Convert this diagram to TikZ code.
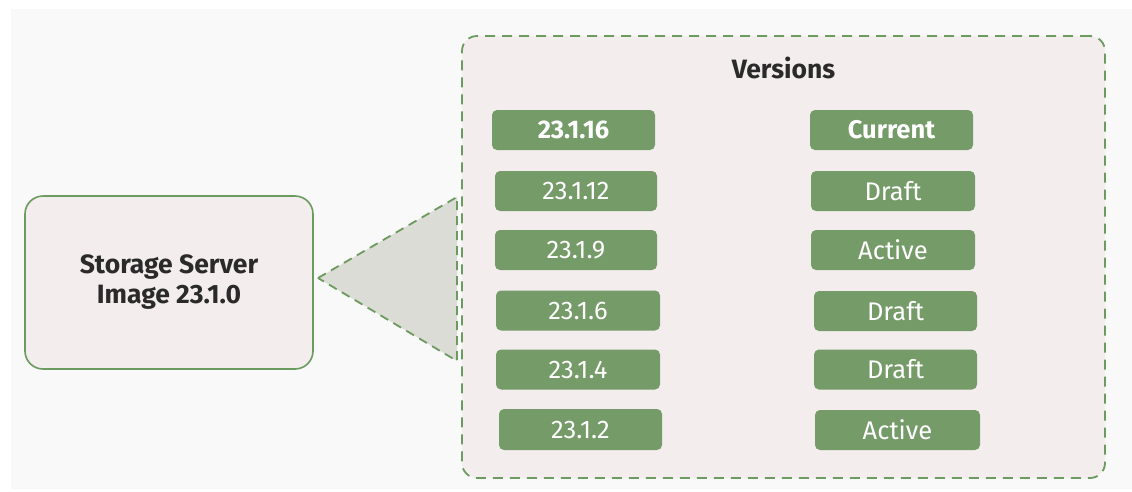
\documentclass[tikz,border=0pt]{standalone}
\usepackage{fontspec}
\setmainfont{Fira Sans}
\definecolor{bgc}{HTML}{F9F9F9}
\definecolor{boxfill}{HTML}{F3EDED}
\definecolor{gline}{HTML}{6C9B60}
\definecolor{gbox}{HTML}{759B68}
\definecolor{trifill}{HTML}{DCDCD6}
\definecolor{txt}{HTML}{2A2A2A}
\tikzset{
  srvbox/.style={draw=gline, line width=1.6pt, fill=boxfill, rounded corners=18pt,
    minimum width=288pt, minimum height=173pt, inner sep=0pt, align=center,
    text=txt, font=\fontsize{26.5}{30}\selectfont\bfseries},
  verbox/.style={draw=gline, line width=1.8pt, fill=boxfill, rounded corners=15pt,
    dash pattern=on 10pt off 7pt, minimum width=643pt, minimum height=442pt, inner sep=0pt},
  tag/.style={fill=gbox, rounded corners=5pt, minimum height=40pt, inner sep=0pt,
    text=white, font=\fontsize{25.5}{28}\selectfont},
  tagb/.style={tag, font=\fontsize{25.5}{28}\selectfont\bfseries},
  title/.style={text=txt, font=\fontsize{26.5}{30}\selectfont\bfseries, inner sep=0pt},
  callout/.style={draw=gline, line width=1.8pt, fill=trifill, dash pattern=on 9pt off 6pt, line join=miter}
}
\begin{document}
\begin{tikzpicture}[x=1pt,y=-1pt]
\useasboundingbox (0,0) rectangle (1132,491);
\fill[bgc] (11,9) rectangle (1132,489);
% left box
\node[srvbox] (srv) at (169,282.5) {Storage Server\\Image 23.1.0};
% versions container
\node[verbox] (ver) at (783.5,257) {};
\node[title] (vt) at (783.5,68) {Versions};
% callout triangle
\coordinate (tip) at (318,278);
\coordinate (ttop) at (457,197);
\coordinate (tbot) at (457,361);
\draw[callout] (tip) -- (ttop) -- (tbot) -- cycle;
% version tags
\node[tagb, minimum width=163pt] (v1) at (573.5,130) {23.1.16};
\node[tag, minimum width=162pt] (v2) at (576,191) {23.1.12};
\node[tag, minimum width=162pt] (v3) at (576,250) {23.1.9};
\node[tag, minimum width=164pt] (v4) at (578,310.5) {23.1.6};
\node[tag, minimum width=164pt] (v5) at (578,369.5) {23.1.4};
\node[tag, minimum width=163pt, minimum height=41pt] (v6) at (580.5,429.5) {23.1.2};
% status tags
\node[tagb, minimum width=163pt] (s1) at (891.5,130) {Current};
\node[tag, minimum width=164pt] (s2) at (893,191) {Draft};
\node[tag, minimum width=164pt] (s3) at (893,250) {Active};
\node[tag, minimum width=163pt] (s4) at (895.5,311) {Draft};
\node[tag, minimum width=163pt] (s5) at (895.5,369.5) {Draft};
\node[tag, minimum width=165pt] (s6) at (897.5,430) {Active};
\end{tikzpicture}
\end{document}
